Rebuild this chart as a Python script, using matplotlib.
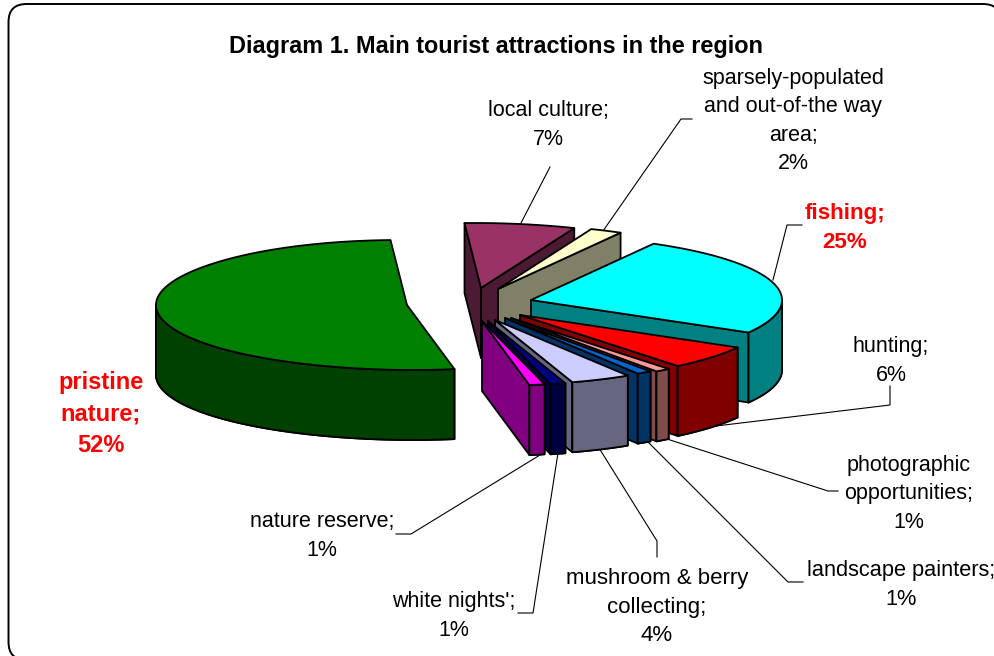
#!/usr/bin/env python3
# -*- coding: utf-8 -*-
import numpy as np
import matplotlib
matplotlib.use("Agg")
import matplotlib.pyplot as plt
from matplotlib.patches import FancyBboxPatch, Polygon

# clockwise from the start angle, like the spreadsheet does it
categories = ["fishing", "hunting", "photographic\nopportunities", "landscape painters",
              "mushroom & berry\ncollecting", "white nights'", "nature reserve",
              "pristine\nnature", "local culture",
              "sparsely-populated\nand out-of-the way\narea"]
shares = [25, 6, 1, 1, 4, 1, 1, 52, 7, 2]
top_colors = ["#00FFFF", "#FF0000", "#FF9999", "#0066CC", "#CCCCFF",
              "#000080", "#FF00FF", "#008000", "#993366", "#FFFFCC"]
side_colors = ["#008080", "#800000", "#804C4C", "#003366", "#666680",
               "#000040", "#800080", "#004000", "#4D1A33", "#808066"]

# pixel position of each slice's tip after the explode
tips = [(531, 300), (520, 315), (511, 318), (505, 318), (495, 320),
        (488, 321), (482, 321), (407, 305), (481, 288), (498, 289)]
draw_order = [7, 8, 9, 0, 1, 2, 3, 4, 5, 6]

START = 60.0
RX, RY, DEPTH = 251.0, 65.0, 70.0
LEAN = 6.0   # the 3D view is a bit in perspective, far rim leans left
LW = 1.3

fig = plt.figure(figsize=(9.94, 6.56), dpi=100)
ax = fig.add_axes([0, 0, 1, 1])
ax.set_xlim(0, 994)
ax.set_ylim(656, 0)
ax.axis("off")
plt.rcParams['font.family'] = ['Liberation Sans', 'DejaVu Sans']

ax.add_patch(FancyBboxPatch((8.5 + 18, 4 + 18), 992.5 - 36, 656 - 36,
                            boxstyle="round,pad=18,rounding_size=18",
                            fc="white", ec="black", lw=1.4, clip_on=True))


def rim(tip, a, b):
    t = np.radians(np.linspace(a, b, max(int(abs(a - b)) * 2, 2)))
    return tip[0] + RX * np.cos(t) - LEAN * np.sin(t) ** 5, tip[1] - RY * np.sin(t)


def draw_slice(tip, a0, a1, top, side, z):
    # a0 > a1, the slice runs clockwise from a0 to a1
    for a, show in ((a0, np.cos(np.radians(a0)) < 0), (a1, np.cos(np.radians(a1)) > 0)):
        if show:
            x, y = rim(tip, a, a)
            pts = [tip, (x[0], y[0]), (x[0], y[0] + DEPTH), (tip[0], tip[1] + DEPTH)]
            ax.add_patch(Polygon(pts, fc=side, ec="black", lw=LW, joinstyle="round", zorder=z))
    # outer wall, only the front half of the rim can be seen
    lo, hi = a1 % 360, (a1 % 360) + (a0 - a1)
    for k in (0, 360):
        s, e = max(lo, 180 + k - 360 * (k > 0)), min(hi, 360 + k - 360 * (k > 0))
        if e > s:
            x, y = rim(tip, s, e)
            pts = np.column_stack([np.r_[x, x[::-1]], np.r_[y, y[::-1] + DEPTH]])
            ax.add_patch(Polygon(pts, fc=side, ec="black", lw=LW, joinstyle="round", zorder=z))
    x, y = rim(tip, a0, a1)
    pts = np.column_stack([np.r_[tip[0], x], np.r_[tip[1], y]])
    ax.add_patch(Polygon(pts, fc=top, ec="black", lw=LW, joinstyle="round", zorder=z))


ends = START - np.cumsum(shares) * 3.6
starts = np.r_[START, ends[:-1]]
for z, i in enumerate(draw_order):
    draw_slice(tips[i], starts[i], ends[i], top_colors[i], side_colors[i], 2 + z)

# leader lines
leaders = [
    [(550, 167), (521, 223)],
    [(692, 119), (681, 119), (603, 231)],
    [(802, 225), (787, 225), (773, 280)],
    [(890, 386), (890, 405), (716, 426)],
    [(838, 491), (828, 491), (667, 439)],
    [(803, 582), (788, 582), (648, 442)],
    [(657, 557), (657, 541), (599, 448)],
    [(518, 613), (533, 613), (558, 453)],
    [(396, 534), (411, 534), (540, 455)],
]
for ln in leaders:
    xs, ys = zip(*ln)
    ax.plot(xs, ys, color="black", lw=0.8, zorder=1)

ax.text(496, 46.5, "Diagram 1. Main tourist attractions in the region", ha="center", va="center",
        fontsize=16.9, fontweight="bold", color="black")

# label centres, same order as categories
label_pos = [(845, 228), (891, 361), (909, 494), (901, 585), (657, 607),
             (454, 616), (322, 536), (101, 414), (548, 125), (793, 121)]
label_size = [16.1, 15.5, 15.5, 15.7, 16.0, 15.5, 15.5, 17.0, 15.5, 15.5]
for i, (name, share) in enumerate(zip(categories, shares)):
    hot = share >= 25
    ax.text(label_pos[i][0], label_pos[i][1], "%s;\n%d%%" % (name, share), ha="center", va="center",
            fontsize=label_size[i], linespacing=1.45, color="#FF0000" if hot else "black",
            fontweight="bold" if hot else "normal", zorder=20)

fig.savefig("out.png", dpi=100)
